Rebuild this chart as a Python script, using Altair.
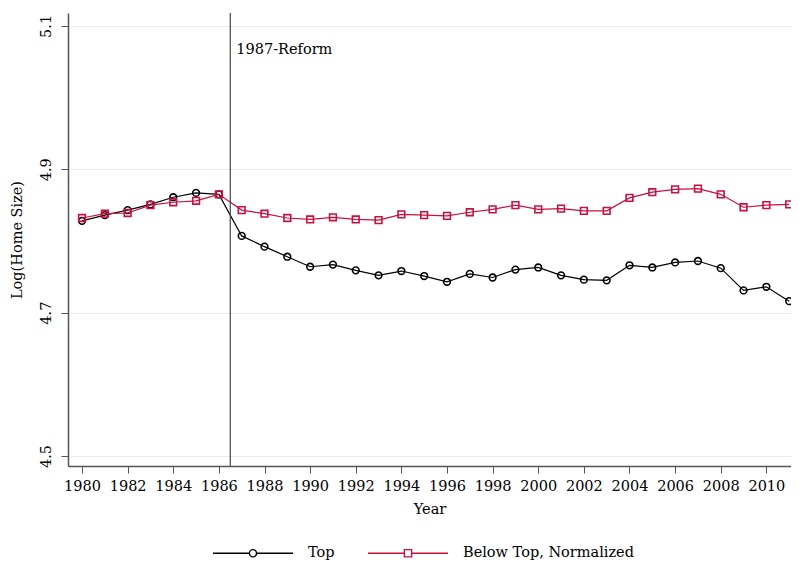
import altair as alt
import pandas as pd

years = list(range(1980, 2012))
top = [4.828, 4.836, 4.843, 4.851, 4.861, 4.867, 4.865, 4.807, 4.792, 4.778,
       4.764, 4.767, 4.759, 4.752, 4.758, 4.751, 4.743, 4.754, 4.749, 4.760,
       4.763, 4.752, 4.746, 4.745, 4.766, 4.763, 4.770, 4.772, 4.762, 4.731,
       4.736, 4.716]
below = [4.832, 4.838, 4.839, 4.850, 4.854, 4.856, 4.865, 4.843, 4.838, 4.832,
         4.830, 4.833, 4.830, 4.829, 4.837, 4.836, 4.835, 4.840, 4.844, 4.850,
         4.844, 4.845, 4.842, 4.842, 4.860, 4.868, 4.872, 4.873, 4.865, 4.847,
         4.850, 4.851]
series_names = ["Top", "Below Top, Normalized"]
series_colors = ["#000000", "#c9103f"]
x_ticks = list(range(1980, 2011, 2))
y_ticks = [4.5, 4.7, 4.9, 5.1]
reform_year = [1986.5]
reform_label = ["1987-Reform"]

FONT = "DejaVu Serif"
FS = 14.5

df = pd.DataFrame({
    "Year": years * 2,
    "value": top + below,
    "series": [series_names[0]] * len(years) + [series_names[1]] * len(years),
})

xscale = alt.Scale(domain=[1979.386, 2011.08], nice=False, zero=False)
yscale = alt.Scale(domain=[4.486, 5.118], nice=False, zero=False)

xaxis = alt.Axis(values=x_ticks, format="d", title="Year", grid=False,
                 tickSize=7, labelPadding=6, titlePadding=10,
                 domainColor="#555555", tickColor="#555555")
yaxis = alt.Axis(values=y_ticks, format=".1f", title="Log(Home Size)", grid=True,
                 gridColor="#ebebeb", tickSize=7, labelAngle=270,
                 labelAlign="center", labelBaseline="bottom", labelPadding=8,
                 titlePadding=14, domainColor="#555555", tickColor="#555555")

base = alt.Chart(df)

layers = []
shapes = ["circle", "square"]
for name, col, shp in zip(series_names, series_colors, shapes):
    sub = base.transform_filter(alt.datum.series == name)
    layers.append(sub.mark_line(strokeWidth=1.2, color=col).encode(
        x=alt.X("Year:Q", scale=xscale, axis=xaxis),
        y=alt.Y("value:Q", scale=yscale, axis=yaxis),
    ))
    layers.append(sub.mark_point(shape=shp, size=45, filled=False, strokeWidth=1.6,
                                 color=col, opacity=1).encode(
        x=alt.X("Year:Q", scale=xscale),
        y=alt.Y("value:Q", scale=yscale),
    ))

# legend layer (no marks drawn, legend only)
r = 0.09
circle_path = (f"M-1,0H-{r}M{r},0H1M{r},0A{r},{r},0,1,1,-{r},0A{r},{r},0,1,1,{r},0Z")
square_path = (f"M-1,0H-{r}M{r},0H1M-{r},-{r}H{r}V{r}H-{r}Z")
leg = alt.Legend(title=None, orient="none", direction="horizontal",
                 legendX=144, legendY=499, symbolSize=6400,
                 symbolStrokeWidth=1.4, symbolFillColor="transparent",
                 labelOffset=14, columnPadding=30, symbolOpacity=1, labelLimit=0)
legend_layer = base.transform_filter("false").mark_point(filled=False, strokeWidth=1.4).encode(
    x=alt.X("Year:Q", scale=xscale),
    y=alt.Y("value:Q", scale=yscale),
    color=alt.Color("series:N", scale=alt.Scale(domain=series_names, range=series_colors),
                    legend=leg),
    shape=alt.Shape("series:N", scale=alt.Scale(domain=series_names, range=[circle_path, square_path]),
                    legend=leg),
)

rule_df = pd.DataFrame({"Year": reform_year, "label": reform_label})
rule = alt.Chart(rule_df).mark_rule(color="#444444", strokeWidth=1.2).encode(
    x=alt.X("Year:Q", scale=xscale),
)
text = alt.Chart(rule_df).mark_text(align="left", baseline="alphabetic", dx=6, font=FONT,
                                    fontSize=FS, color="#000000").encode(
    x=alt.X("Year:Q", scale=xscale),
    y=alt.value(41),
    text="label:N",
)

chart = alt.layer(*layers, rule, text, legend_layer).properties(
    width=723, height=453,
    padding={"left": 60, "top": 5, "right": 0, "bottom": 94},
    autosize=alt.AutoSizeParams(type="none"),
).configure_view(stroke=None).configure_axis(
    labelFont=FONT, titleFont=FONT, labelFontSize=FS, titleFontSize=FS,
    labelColor="#000000", titleColor="#000000", titleFontWeight="normal",
    domainWidth=1.5,
).configure_legend(labelFont=FONT, labelFontSize=FS, labelColor="#000000")

chart.save("out.html", embed_options={"renderer": "svg", "actions": False})
